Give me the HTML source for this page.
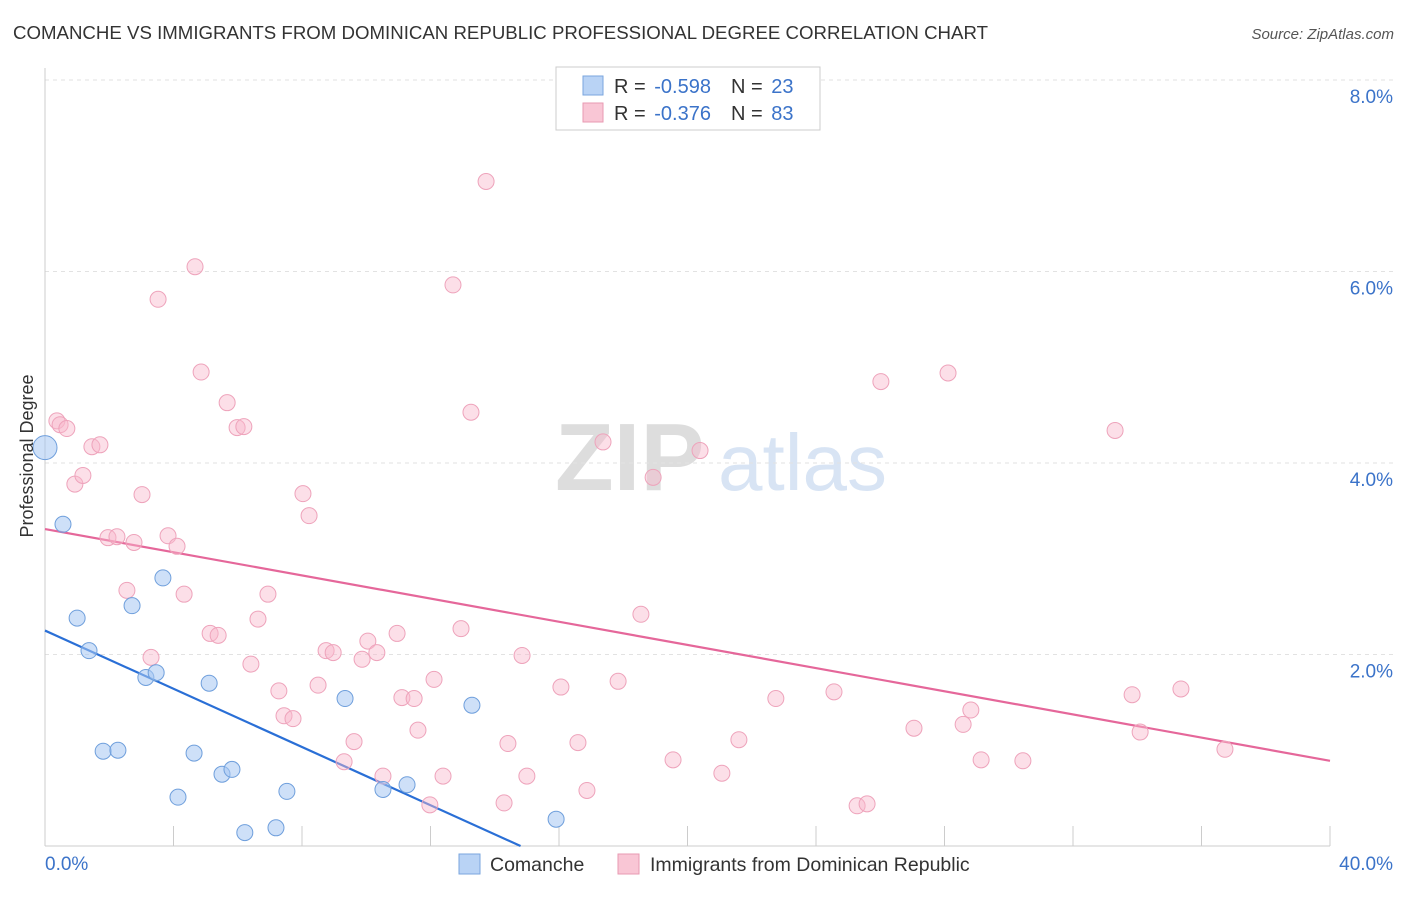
<!DOCTYPE html>
<html><head><meta charset="utf-8"><style>
body{margin:0;background:#fff;font-family:"Liberation Sans",sans-serif;}
svg text{font-family:"Liberation Sans",sans-serif;}
</style></head><body>
<svg id="chart" width="1406" height="892" viewBox="0 0 1406 892" xmlns="http://www.w3.org/2000/svg">
<text x="13" y="39" font-size="18" fill="#333" textLength="975" lengthAdjust="spacingAndGlyphs">COMANCHE VS IMMIGRANTS FROM DOMINICAN REPUBLIC PROFESSIONAL DEGREE CORRELATION CHART</text>
<text x="1394" y="39" font-size="15" fill="#555" text-anchor="end" font-style="italic">Source: ZipAtlas.com</text>
<g>
<text x="555" y="490" font-size="96" fill="#ddd" font-family="Liberation Serif" font-weight="bold">ZIP</text>
<text x="718" y="490" font-size="80" fill="#d8e4f4">atlas</text>
</g>
<g id="grid"></g>
<g id="axes"></g>
<g id="trends"></g>
<g id="points"></g>
<text transform="translate(33,456) rotate(-90)" font-size="18" fill="#333" text-anchor="middle">Professional Degree</text>
<g>
<rect x="556" y="67" width="264" height="63" fill="#fff" stroke="#ccc"/>
<rect x="583" y="76" width="20" height="19" fill="#b9d3f5" stroke="#7aa6de"/>
<rect x="583" y="103" width="20" height="19" fill="#f9c6d5" stroke="#e89ab2"/>
<text x="614" y="93" font-size="20" fill="#333">R = <tspan fill="#3b73c9" dx="3">-0.598</tspan><tspan dx="20">N = </tspan><tspan fill="#3b73c9" dx="3">23</tspan></text>
<text x="614" y="120" font-size="20" fill="#333">R = <tspan fill="#3b73c9" dx="3">-0.376</tspan><tspan dx="20">N = </tspan><tspan fill="#3b73c9" dx="3">83</tspan></text>
</g>
<g>
<rect x="459" y="854" width="21" height="20" fill="#b9d3f5" stroke="#7aa6de"/>
<text x="490" y="871" font-size="19.5" fill="#333">Comanche</text>
<rect x="618" y="854" width="21" height="20" fill="#f9c6d5" stroke="#e89ab2"/>
<text x="650" y="871" font-size="19.5" fill="#333">Immigrants from Dominican Republic</text>
</g>
</svg>
<script>
const xTickValues=[0,40];
const yTickValues=[2,4,6,8];
const blueX=[0.0,0.56,1.0,1.37,1.81,2.27,2.71,3.14,3.46,3.67,4.14,4.64,5.11,5.51,5.82,6.22,7.19,7.53,9.34,10.52,11.27,13.29,15.91];
const blueY=[4.16,3.36,2.38,2.04,0.99,1.00,2.51,1.76,1.81,2.80,0.51,0.97,1.70,0.75,0.80,0.14,0.19,0.57,1.54,0.59,0.64,1.47,0.28];
const pinkX=[0.37,0.47,0.68,0.93,1.18,1.46,1.71,1.96,2.24,2.55,2.77,3.02,3.30,3.52,3.83,4.11,4.33,4.67,4.86,5.14,5.39,5.67,5.98,6.19,6.41,6.63,6.94,7.28,7.44,7.72,8.03,8.22,8.50,8.75,8.97,9.31,9.62,9.87,10.05,10.33,10.52,10.96,11.11,11.49,11.61,11.98,12.11,12.39,12.70,12.95,13.26,13.73,14.29,14.41,14.85,15.00,16.06,16.59,16.87,17.37,17.84,18.55,18.93,19.55,20.39,21.07,21.60,22.75,24.56,25.28,25.59,26.02,27.05,28.11,28.58,28.82,29.14,30.44,33.31,33.84,34.09,35.36,36.73];
const pinkY=[4.44,4.40,4.36,3.78,3.87,4.17,4.19,3.22,3.23,2.67,3.17,3.67,1.97,5.71,3.24,3.13,2.63,6.05,4.95,2.22,2.20,4.63,4.37,4.38,1.90,2.37,2.63,1.62,1.36,1.33,3.68,3.45,1.68,2.04,2.02,0.88,1.09,1.95,2.14,2.02,0.73,2.22,1.55,1.54,1.21,0.43,1.74,0.73,5.86,2.27,4.53,6.94,0.45,1.07,1.99,0.73,1.66,1.08,0.58,4.22,1.72,2.42,3.85,0.90,4.13,0.76,1.11,1.54,1.61,0.42,0.44,4.85,1.23,4.94,1.27,1.42,0.90,0.89,4.34,1.58,1.19,1.64,1.01];
const blueTrend=[2.25,-0.152];
const pinkTrend=[3.31,-0.0605];

const NS="http://www.w3.org/2000/svg";
const X0=45,X1=1330,Y0=846,YTOP=80;
function sx(v){return X0+v/40*(X1-X0);}
function sy(v){return Y0-v/8*(Y0-YTOP);}
function mk(tag,attrs,parent){const e=document.createElementNS(NS,tag);for(const k in attrs)e.setAttribute(k,attrs[k]);document.getElementById(parent).appendChild(e);return e;}

let g=mk('line',{x1:X0,y1:68,x2:X0,y2:Y0,stroke:'#ccc'},'axes');


g=mk('line',{x1:X0,y1:Y0,x2:X1,y2:Y0,stroke:'#ccc'},'axes');


for(let i=1;i<=10;i++){
  const t=mk('line',{x1:sx(i*4),y1:826,x2:sx(i*4),y2:Y0,stroke:'#ccc'},'axes');
  
  
}
yTickValues.forEach(v=>{
  const l=mk('line',{x1:X0,y1:sy(v),x2:1393,y2:sy(v),stroke:'#e2e2e2','stroke-dasharray':'4,4'},'grid');
  
  
  const t=mk('text',{x:1393,y:sy(v)+23,'font-size':19,fill:'#3b73c9','text-anchor':'end'},'grid');
  t.textContent=v.toFixed(1)+'%';
  
  
});
xTickValues.forEach((v,i)=>{
  const t=mk('text',{x:i==0?45:1393,y:870,'font-size':19,fill:'#3b73c9','text-anchor':i==0?'start':'end'},'axes');
  t.textContent=v.toFixed(1)+'%';
  
  
});
function drawTrend(tr,xmax,col,name){
  let xe=xmax; if(tr[0]+tr[1]*xe<0) xe=-tr[0]/tr[1];
  const l=mk('line',{x1:sx(0),y1:sy(tr[0]),x2:sx(xe),y2:sy(tr[0]+tr[1]*xe),stroke:col,'stroke-width':2.2},'trends');
  
  
}
pinkX.forEach((x,i)=>{
  const c=mk('circle',{cx:sx(x),cy:sy(pinkY[i]),r:8,fill:'rgba(248,185,205,0.45)',stroke:'#eea3bb','stroke-width':1},'points');
  
  
});
blueX.forEach((x,i)=>{
  const c=mk('circle',{cx:sx(x),cy:sy(blueY[i]),r:i==0?12:8,fill:'rgba(165,198,242,0.55)',stroke:'#6f9fdc','stroke-width':1},'points');
  
  
});
drawTrend(pinkTrend,40,'#e5679a','dominican-trend-line');
drawTrend(blueTrend,40,'#2a6fd6','comanche-trend-line');
</script>
</body></html>
